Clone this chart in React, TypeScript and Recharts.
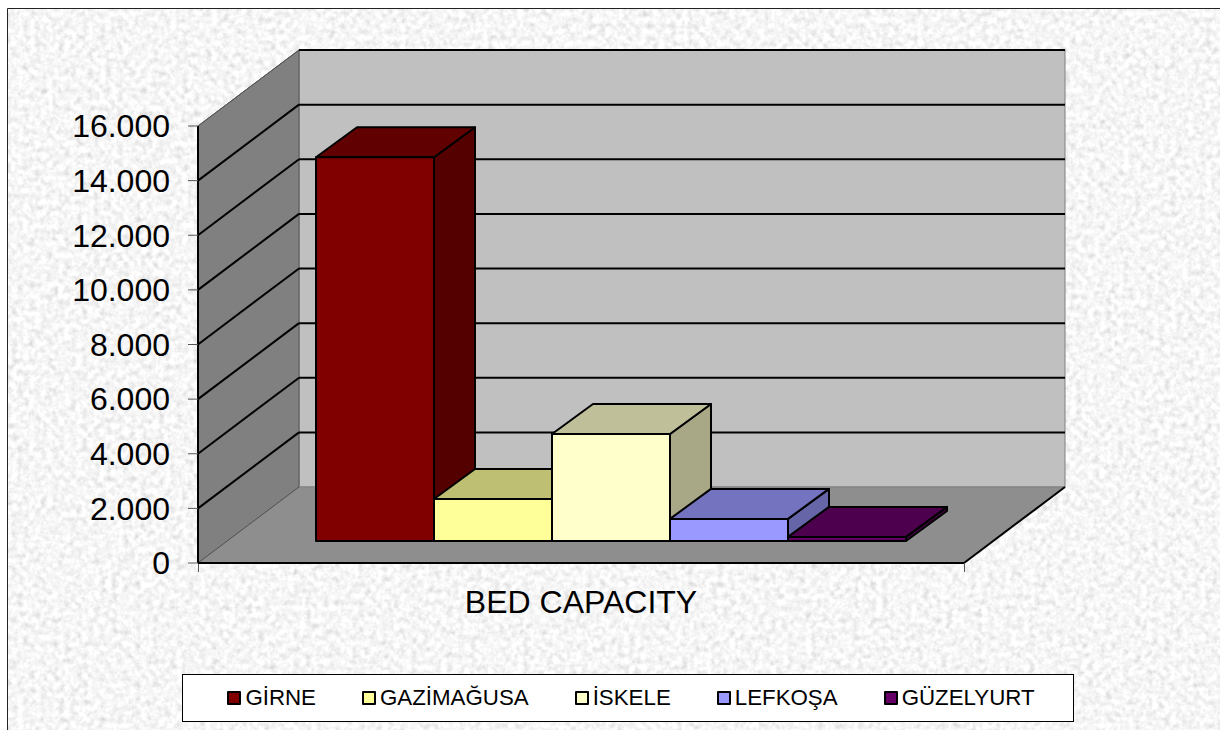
import { Bar, BarChart, Legend, XAxis, YAxis } from 'recharts'

const categories = ['BED CAPACITY']
const seriesNames = ['GİRNE', 'GAZİMAĞUSA', 'İSKELE', 'LEFKOŞA', 'GÜZELYURT']
const seriesColors = ['#800000', '#ffff99', '#ffffcc', '#9999ff', '#660066']
const seriesValues = [14050, 1540, 3920, 810, 150]
const yTicks = [0, 2000, 4000, 6000, 8000, 10000, 12000, 14000, 16000]

const chartData = categories.map((name) => {
  const row: Record<string, string | number> = { name }
  seriesNames.forEach((s, i) => {
    row[s] = seriesValues[i]
  })
  return row
})

// front plane of the fake 3d box, the bars stand partway into its depth
const left = 198
const right = 964
const top = 126
const bottom = 563
const depthX = 101
const depthY = 76
const barShiftX = 30
const barShiftY = 22
const barDepthX = 41
const barDepthY = 30

const yFront = (v: number) => bottom - (v / 16000) * (bottom - top)
const formatTick = (v: number) => String(v).replace(/\B(?=(\d{3})+$)/g, '.')

function shade(hex: string, k: number) {
  const n = parseInt(hex.slice(1), 16)
  const c = [n >> 16, (n >> 8) & 255, n & 255].map((p) => Math.round(p * k))
  return `rgb(${c.join(',')})`
}

function Box3d(props: any) {
  const { x, y, width, height, fill } = props
  const x0 = x + barShiftX
  const y0 = y - barShiftY
  const x1 = x0 + width
  const y1 = y0 + height
  const dx = barDepthX
  const dy = barDepthY
  return (
    <g stroke='#000' strokeWidth={2} strokeLinejoin='round'>
      <polygon
        points={`${x1},${y0} ${x1 + dx},${y0 - dy} ${x1 + dx},${y1 - dy} ${x1},${y1}`}
        fill={shade(fill, 0.66)}
      />
      <polygon
        points={`${x0},${y0} ${x0 + dx},${y0 - dy} ${x1 + dx},${y0 - dy} ${x1},${y0}`}
        fill={shade(fill, 0.75)}
      />
      <rect x={x0} y={y0} width={width} height={height} fill={fill} />
    </g>
  )
}

function Walls() {
  return (
    <svg
      width={1220}
      height={730}
      style={{ position: 'absolute', left: 0, top: 0 }}
    >
      <defs>
        <filter id='granite' x='0' y='0' width='100%' height='100%'>
          <feTurbulence
            type='fractalNoise'
            baseFrequency='0.17'
            numOctaves={3}
            seed={7}
          />
          <feColorMatrix
            type='matrix'
            values='0.36 0.36 0 0 0.56  0.36 0.36 0 0 0.56  0.36 0.36 0 0 0.56  0 0 0 0 1'
          />
        </filter>
      </defs>
      <rect x={7} y={8} width={1213} height={722} filter='url(#granite)' />
      <path d='M7.5 730V8.5H1220' fill='none' stroke='#222' strokeWidth={1} />
      {/* back wall */}
      <rect
        x={left + depthX}
        y={top - depthY}
        width={right - left}
        height={bottom - top}
        fill='#c0c0c0'
        stroke='#808080'
      />
      {/* side wall */}
      <polygon
        points={`${left},${top} ${left + depthX},${top - depthY} ${left + depthX},${bottom - depthY} ${left},${bottom}`}
        fill='#808080'
        stroke='#555'
      />
      {/* floor */}
      <polygon
        points={`${left},${bottom} ${left + depthX},${bottom - depthY} ${right + depthX},${bottom - depthY} ${right},${bottom}`}
        fill='#8e8e8e'
      />
      <line
        x1={left}
        y1={bottom}
        x2={left + depthX}
        y2={bottom - depthY}
        stroke='#555'
      />
      <line
        x1={left + depthX}
        y1={bottom - depthY}
        x2={right + depthX}
        y2={bottom - depthY}
        stroke='#808080'
      />
      <line
        x1={right}
        y1={bottom}
        x2={right + depthX}
        y2={bottom - depthY}
        stroke='#000'
        strokeWidth={2}
      />
      {yTicks
        .filter((t) => t > 0)
        .map((t) => (
          <g key={t} stroke='#000' strokeWidth={2} fill='none'>
            {t < 16000 && (
              <line
                x1={left}
                y1={yFront(t)}
                x2={left + depthX}
                y2={yFront(t) - depthY}
              />
            )}
            <line
              x1={left + depthX}
              y1={yFront(t) - depthY}
              x2={right + depthX}
              y2={yFront(t) - depthY}
            />
          </g>
        ))}
      <line
        x1={left}
        y1={top}
        x2={left + depthX}
        y2={top - depthY}
        stroke='#555'
      />
      <line x1={left + 0.5} y1={bottom} x2={left + 0.5} y2={bottom + 9} stroke='#555' />
      <line x1={right + 0.5} y1={bottom} x2={right + 0.5} y2={bottom + 9} stroke='#555' />
    </svg>
  )
}

function LegendBox({ payload }: any) {
  return (
    <div
      style={{
        boxSizing: 'border-box',
        width: 892,
        height: 48,
        paddingLeft: 6,
        background: '#fff',
        border: '1px solid #000',
        display: 'flex',
        alignItems: 'center',
        justifyContent: 'center',
        gap: 46,
        fontFamily: '"Liberation Sans", Arial, sans-serif',
        fontSize: 22.3,
        color: '#000',
      }}
    >
      {(payload ?? []).map((item: any) => (
        <div
          key={item.value}
          style={{ display: 'flex', alignItems: 'center', gap: 4 }}
        >
          <span
            style={{
              boxSizing: 'border-box',
              width: 14,
              height: 14,
              background: item.color,
              border: '2px solid #000',
              borderRadius: 1,
            }}
          />
          {item.value}
        </div>
      ))}
    </div>
  )
}

export default function App() {
  return (
    <div style={{ position: 'relative', width: 1220, height: 730 }}>
      <style>{'body{margin:0}'}</style>
      <Walls />
      <div style={{ position: 'absolute', left: 0, top: 0 }}>
        <BarChart
          width={1220}
          height={730}
          data={chartData}
          margin={{ top, right: 1220 - right, bottom: 8, left: 0 }}
          barCategoryGap={88}
          barGap={0}
        >
          <XAxis
            dataKey='name'
            height={111}
            tickLine={false}
            axisLine={{ stroke: '#000', strokeWidth: 2 }}
            tickMargin={21}
            tick={{
              fill: '#000',
              fontSize: 32,
              fontFamily: '"Liberation Sans", Arial, sans-serif',
            }}
          />
          <YAxis
            width={left}
            domain={[0, 16000]}
            ticks={yTicks}
            interval={0}
            tickFormatter={formatTick}
            tickSize={10}
            tickMargin={18}
            tickLine={{ stroke: '#555' }}
            axisLine={{ stroke: '#000', strokeWidth: 2 }}
            tick={{
              fill: '#000',
              fontSize: 32,
              fontFamily: '"Liberation Sans", Arial, sans-serif',
            }}
          />
          <Legend
            verticalAlign='bottom'
            content={<LegendBox />}
            itemSorter={null}
            wrapperStyle={{ left: 182, width: 892 }}
          />
          {seriesNames.map((s, i) => (
            <Bar
              key={s}
              dataKey={s}
              name={s}
              fill={seriesColors[i]}
              shape={<Box3d />}
              isAnimationActive={false}
            />
          ))}
        </BarChart>
      </div>
    </div>
  )
}
